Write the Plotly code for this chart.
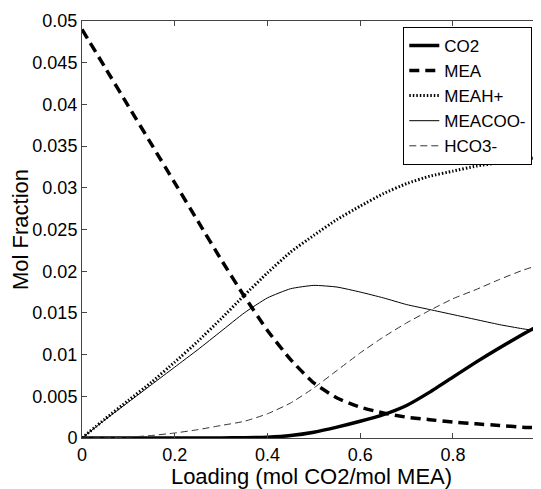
import plotly.graph_objects as go

loading = [0, 0.05, 0.1, 0.15, 0.2, 0.25, 0.3, 0.35, 0.4, 0.45, 0.5,
           0.55, 0.6, 0.65, 0.7, 0.75, 0.8, 0.85, 0.9, 0.95, 1.0]

co2 = [0, 0, 0, 0, 0, 0, 0.00001, 0.00003, 0.0001, 0.0003, 0.0007,
       0.0013, 0.0020, 0.0028, 0.0039, 0.0055, 0.0073, 0.0091, 0.0108, 0.0124, 0.0139]
mea = [0.049, 0.0444, 0.0398, 0.0352, 0.0306, 0.0260, 0.0214, 0.0170, 0.0129, 0.0094, 0.0066,
       0.0048, 0.0037, 0.0030, 0.0025, 0.0022, 0.0019, 0.0017, 0.0015, 0.0013, 0.0012]
meah = [0, 0.0023, 0.0045, 0.0067, 0.0091, 0.0116, 0.0143, 0.0171, 0.0198, 0.0223, 0.0243,
        0.0262, 0.0278, 0.0293, 0.0305, 0.0314, 0.0320, 0.0326, 0.0330, 0.0334, 0.0338]
meacoo = [0, 0.0022, 0.0043, 0.0064, 0.0085, 0.0106, 0.0128, 0.0150, 0.0168, 0.0179, 0.0183,
          0.0181, 0.0175, 0.0168, 0.0160, 0.0154, 0.0148, 0.0142, 0.0136, 0.0131, 0.0127]
hco3 = [0, 0.00003, 0.0001, 0.0003, 0.0006, 0.0010, 0.0015, 0.0020, 0.0029, 0.0042, 0.0060,
        0.0081, 0.0102, 0.0121, 0.0138, 0.0153, 0.0167, 0.0178, 0.0190, 0.0201, 0.0210]

x_tickvals = [0, 0.2, 0.4, 0.6, 0.8]
x_ticktext = ["0", "0.2", "0.4", "0.6", "0.8"]
y_tickvals = [0, 0.005, 0.01, 0.015, 0.02, 0.025, 0.03, 0.035, 0.04, 0.045, 0.05]
y_ticktext = ["0", "0.005", "0.01", "0.015", "0.02", "0.025", "0.03", "0.035", "0.04", "0.045", "0.05"]

series = [
    ("CO2", co2, dict(color="black", width=3.5, dash="solid")),
    ("MEA", mea, dict(color="black", width=3.5, dash="10px,6px")),
    ("MEAH+", meah, dict(color="black", width=3, dash="1.5px,2px")),
    ("MEACOO-", meacoo, dict(color="black", width=1, dash="solid")),
    ("HCO3-", hco3, dict(color="#333333", width=1, dash="7px,4px")),
]

fig = go.Figure()
for name, vals, line in series:
    fig.add_trace(go.Scatter(x=loading, y=vals, mode="lines", name=name,
                             line=dict(shape="spline", smoothing=0.5, **line)))

# page body has an 8px default margin, so the figure is offset by 8px
font = dict(family="Liberation Sans, Arial, sans-serif", size=18, color="black")
fig.update_layout(
    width=533, height=481,
    margin=dict(l=74, r=0, t=13, b=51),
    paper_bgcolor="white", plot_bgcolor="white",
    font=font,
    showlegend=True,
    legend=dict(x=0.70, y=0.986, xanchor="left", yanchor="top",
                bgcolor="white", bordercolor="black", borderwidth=1,
                font=dict(size=17), tracegroupgap=0, itemwidth=30),
)
fig.update_xaxes(range=[0, 0.99], tickvals=x_tickvals, ticktext=x_ticktext,
                 showline=True, linecolor="#444", linewidth=1, mirror="ticks",
                 ticks="inside", ticklen=5, tickcolor="#444", showgrid=False, zeroline=False,
                 automargin=False,
                 title=dict(text="Loading (mol CO2/mol MEA)", standoff=4))
fig.update_yaxes(range=[0, 0.05], tickvals=y_tickvals, ticktext=y_ticktext,
                 showline=True, linecolor="#444", linewidth=1, mirror="ticks",
                 ticks="inside", ticklen=5, tickcolor="#444", showgrid=False, zeroline=False,
                 automargin=False,
                 title=dict(text="Mol Fraction", standoff=4))

fig.write_html("out.html")
